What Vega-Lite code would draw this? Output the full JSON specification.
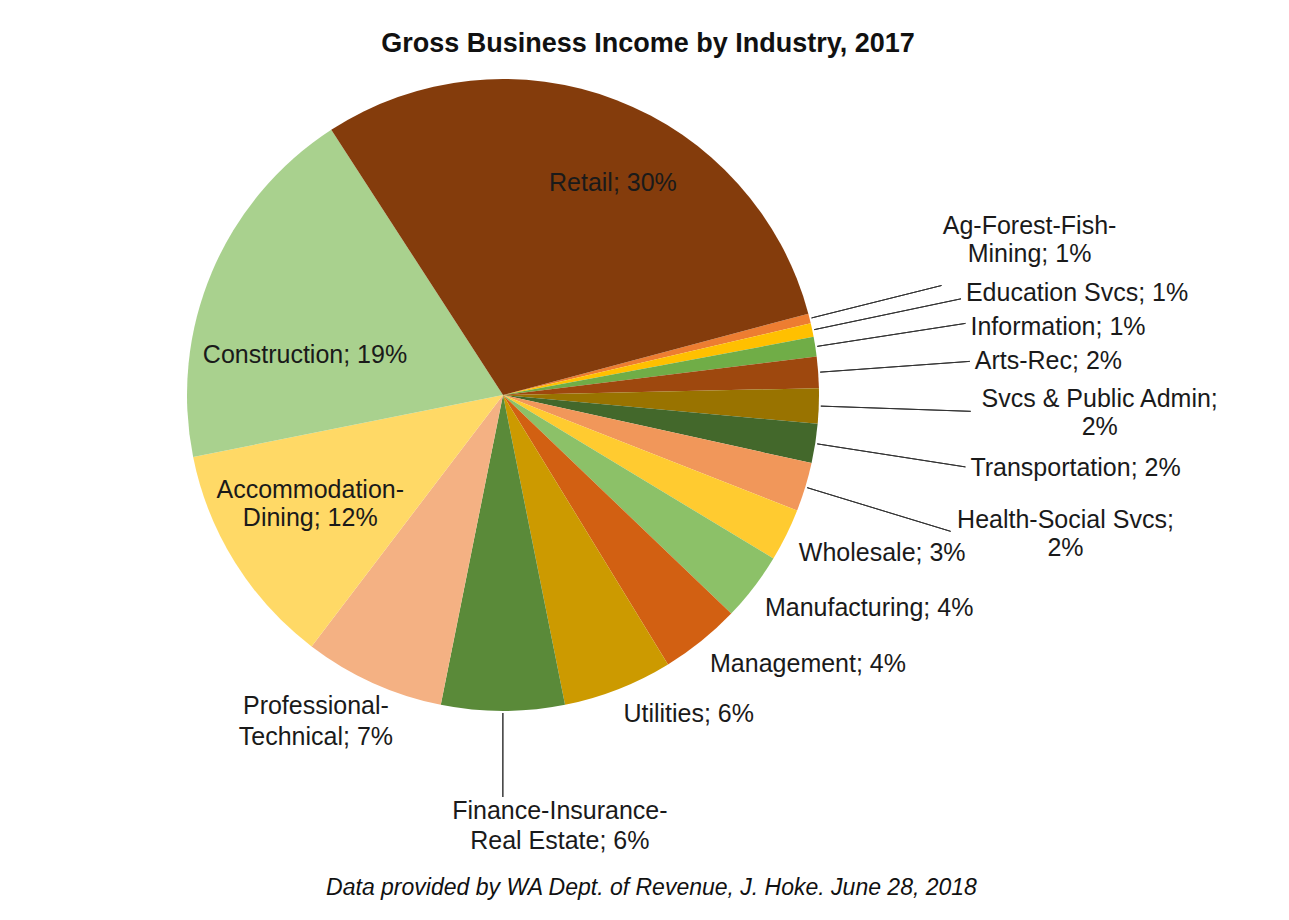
{
  "$schema": "https://vega.github.io/schema/vega-lite/v6.json",
  "width": 990,
  "height": 650,
  "autosize": {"type": "none"},
  "padding": {"left": 8, "top": 70, "right": 291, "bottom": 200},
  "background": "#ffffff",
  "config": {"view": {"stroke": null}, "font": "Liberation Sans"},
  "title": {
    "text": "Gross Business Income by Industry, 2017",
    "font": "Liberation Sans",
    "fontSize": 27,
    "fontWeight": "bold",
    "color": "#111111",
    "anchor": "middle",
    "dx": 145,
    "offset": 12
  },
  "data": {
    "values": [
      {"order": 1, "industry": "Ag-Forest-Fish-Mining", "pct": 0.5, "label": "Ag-Forest-Fish-\nMining; 1%"},
      {"order": 2, "industry": "Education Svcs", "pct": 0.7, "label": "Education Svcs; 1%"},
      {"order": 3, "industry": "Information", "pct": 1.0, "label": "Information; 1%"},
      {"order": 4, "industry": "Arts-Rec", "pct": 1.6, "label": "Arts-Rec; 2%"},
      {"order": 5, "industry": "Svcs & Public Admin", "pct": 1.8, "label": "Svcs & Public Admin;\n2%"},
      {"order": 6, "industry": "Transportation", "pct": 2.0, "label": "Transportation; 2%"},
      {"order": 7, "industry": "Health-Social Svcs", "pct": 2.5, "label": "Health-Social Svcs;\n2%"},
      {"order": 8, "industry": "Wholesale", "pct": 2.7, "label": "Wholesale; 3%"},
      {"order": 9, "industry": "Manufacturing", "pct": 3.5, "label": "Manufacturing; 4%"},
      {"order": 10, "industry": "Management", "pct": 4.1, "label": "Management; 4%"},
      {"order": 11, "industry": "Utilities", "pct": 5.6, "label": "Utilities; 6%"},
      {"order": 12, "industry": "Finance-Insurance-Real Estate", "pct": 6.3, "label": "Finance-Insurance-\nReal Estate; 6%"},
      {"order": 13, "industry": "Professional-Technical", "pct": 7.2, "label": "Professional-\nTechnical; 7%"},
      {"order": 14, "industry": "Accommodation-Dining", "pct": 11.5, "label": "Accommodation-\nDining; 12%"},
      {"order": 15, "industry": "Construction", "pct": 19.0, "label": "Construction; 19%"},
      {"order": 16, "industry": "Retail", "pct": 30.0, "label": "Retail; 30%"}
    ]
  },
  "transform": [
    {"stack": "pct", "groupby": [], "sort": [{"field": "order", "order": "ascending"}], "as": ["v0", "v1"]},
    {"calculate": "(datum.v0 + datum.v1) / 2", "as": "mid"}
  ],
  "layer": [
    {
      "mark": {"type": "arc", "radius": 316},
      "encoding": {
        "theta": {"field": "v0", "type": "quantitative", "scale": {"domain": [0, 100], "range": [1.3104, 7.5936]}},
        "theta2": {"field": "v1"},
        "color": {
          "field": "industry",
          "type": "nominal",
          "legend": null,
          "scale": {
            "domain": ["Ag-Forest-Fish-Mining", "Education Svcs", "Information", "Arts-Rec", "Svcs & Public Admin", "Transportation", "Health-Social Svcs", "Wholesale", "Manufacturing", "Management", "Utilities", "Finance-Insurance-Real Estate", "Professional-Technical", "Accommodation-Dining", "Construction", "Retail"],
            "range": ["#ED7D31", "#FFC000", "#70AD47", "#9E480E", "#997300", "#43682B", "#F1975A", "#FFCB30", "#8CC168", "#D26012", "#CC9A00", "#5A8A39", "#F4B183", "#FFD966", "#A9D18E", "#843C0C"]
          }
        }
      }
    },
    {
      "transform": [{"filter": {"field": "industry", "oneOf": ["Education Svcs", "Information", "Arts-Rec", "Svcs & Public Admin", "Transportation", "Health-Social Svcs"]}}],
      "mark": {"type": "arc", "radius": 468, "radius2": 318, "filled": false, "stroke": "#333333", "strokeWidth": 1},
      "encoding": {
        "theta": {"field": "mid", "type": "quantitative", "scale": {"domain": [0, 100], "range": [1.3104, 7.5936]}},
        "theta2": {"field": "mid"}
      }
    },
    {
      "transform": [{"filter": {"field": "industry", "equal": "Ag-Forest-Fish-Mining"}}],
      "mark": {"type": "arc", "radius": 452, "radius2": 318, "filled": false, "stroke": "#333333", "strokeWidth": 1},
      "encoding": {
        "theta": {"field": "mid", "type": "quantitative", "scale": {"domain": [0, 100], "range": [1.3104, 7.5936]}},
        "theta2": {"field": "mid"}
      }
    },
    {
      "transform": [{"filter": {"field": "industry", "equal": "Finance-Insurance-Real Estate"}}],
      "mark": {"type": "arc", "radius": 402, "radius2": 318, "filled": false, "stroke": "#333333", "strokeWidth": 1},
      "encoding": {
        "theta": {"field": "mid", "type": "quantitative", "scale": {"domain": [0, 100], "range": [1.3104, 7.5936]}},
        "theta2": {"field": "mid"}
      }
    },
    {
      "transform": [{"filter": {"field": "industry", "oneOf": ["Arts-Rec", "Transportation"]}}],
      "mark": {"type": "text", "radius": 473, "align": "left", "baseline": "middle", "fontSize": 25, "color": "#1a1a1a", "font": "Liberation Sans"},
      "encoding": {
        "theta": {"field": "mid", "type": "quantitative", "stack": null, "scale": {"domain": [0, 100], "range": [1.3104, 7.5936]}},
        "text": {"field": "label"}
      }
    },
    {
      "transform": [{"filter": {"field": "industry", "equal": "Information"}}],
      "mark": {"type": "text", "radius": 473, "align": "left", "baseline": "middle", "dy": 4, "fontSize": 25, "color": "#1a1a1a", "font": "Liberation Sans"},
      "encoding": {
        "theta": {"field": "mid", "type": "quantitative", "stack": null, "scale": {"domain": [0, 100], "range": [1.3104, 7.5936]}},
        "text": {"field": "label"}
      }
    },
    {
      "transform": [{"filter": {"field": "industry", "equal": "Education Svcs"}}],
      "mark": {"type": "text", "radius": 473, "align": "left", "baseline": "middle", "dy": -5, "fontSize": 25, "color": "#1a1a1a", "font": "Liberation Sans"},
      "encoding": {
        "theta": {"field": "mid", "type": "quantitative", "stack": null, "scale": {"domain": [0, 100], "range": [1.3104, 7.5936]}},
        "text": {"field": "label"}
      }
    },
    {
      "transform": [{"filter": {"field": "industry", "equal": "Svcs & Public Admin"}}],
      "mark": {"type": "text", "radius": 473, "align": "center", "baseline": "middle", "dx": 124, "dy": -13, "fontSize": 25, "lineBreak": "\n", "lineHeight": 28, "color": "#1a1a1a", "font": "Liberation Sans"},
      "encoding": {
        "theta": {"field": "mid", "type": "quantitative", "stack": null, "scale": {"domain": [0, 100], "range": [1.3104, 7.5936]}},
        "text": {"field": "label"}
      }
    },
    {
      "transform": [{"filter": {"field": "industry", "equal": "Health-Social Svcs"}}],
      "mark": {"type": "text", "radius": 473, "align": "center", "baseline": "middle", "dx": 110, "dy": -13, "fontSize": 25, "lineBreak": "\n", "lineHeight": 28, "color": "#1a1a1a", "font": "Liberation Sans"},
      "encoding": {
        "theta": {"field": "mid", "type": "quantitative", "stack": null, "scale": {"domain": [0, 100], "range": [1.3104, 7.5936]}},
        "text": {"field": "label"}
      }
    },
    {
      "transform": [{"filter": {"field": "industry", "equal": "Ag-Forest-Fish-Mining"}}],
      "mark": {"type": "text", "radius": 452, "align": "center", "baseline": "middle", "dx": 88, "dy": -60, "fontSize": 25, "lineBreak": "\n", "lineHeight": 28, "color": "#1a1a1a", "font": "Liberation Sans"},
      "encoding": {
        "theta": {"field": "mid", "type": "quantitative", "stack": null, "scale": {"domain": [0, 100], "range": [1.3104, 7.5936]}},
        "text": {"field": "label"}
      }
    },
    {
      "transform": [{"filter": {"field": "industry", "oneOf": ["Wholesale", "Manufacturing", "Management", "Utilities"]}}],
      "mark": {"type": "text", "radius": 330, "align": "left", "baseline": "top", "fontSize": 25, "color": "#1a1a1a", "font": "Liberation Sans"},
      "encoding": {
        "theta": {"field": "mid", "type": "quantitative", "stack": null, "scale": {"domain": [0, 100], "range": [1.3104, 7.5936]}},
        "text": {"field": "label"}
      }
    },
    {
      "transform": [{"filter": {"field": "industry", "equal": "Professional-Technical"}}],
      "mark": {"type": "text", "radius": 328, "align": "center", "baseline": "top", "dx": -52, "fontSize": 25, "lineBreak": "\n", "lineHeight": 31, "color": "#1a1a1a", "font": "Liberation Sans"},
      "encoding": {
        "theta": {"field": "mid", "type": "quantitative", "stack": null, "scale": {"domain": [0, 100], "range": [1.3104, 7.5936]}},
        "text": {"field": "label"}
      }
    },
    {
      "transform": [{"filter": {"field": "industry", "equal": "Finance-Insurance-Real Estate"}}],
      "mark": {"type": "text", "radius": 404, "align": "center", "baseline": "top", "dx": 57, "fontSize": 25, "lineBreak": "\n", "lineHeight": 30, "color": "#1a1a1a", "font": "Liberation Sans"},
      "encoding": {
        "theta": {"field": "mid", "type": "quantitative", "stack": null, "scale": {"domain": [0, 100], "range": [1.3104, 7.5936]}},
        "text": {"field": "label"}
      }
    },
    {
      "transform": [{"filter": {"field": "industry", "equal": "Retail"}}],
      "mark": {"type": "text", "radius": 239, "thetaOffset": 0.11, "align": "center", "baseline": "middle", "fontSize": 25, "color": "#1a1a1a", "font": "Liberation Sans"},
      "encoding": {
        "theta": {"field": "mid", "type": "quantitative", "stack": null, "scale": {"domain": [0, 100], "range": [1.3104, 7.5936]}},
        "text": {"field": "label"}
      }
    },
    {
      "transform": [{"filter": {"field": "industry", "equal": "Construction"}}],
      "mark": {"type": "text", "radius": 202, "thetaOffset": -0.2, "align": "center", "baseline": "middle", "fontSize": 25, "color": "#1a1a1a", "font": "Liberation Sans"},
      "encoding": {
        "theta": {"field": "mid", "type": "quantitative", "stack": null, "scale": {"domain": [0, 100], "range": [1.3104, 7.5936]}},
        "text": {"field": "label"}
      }
    },
    {
      "transform": [{"filter": {"field": "industry", "equal": "Accommodation-Dining"}}],
      "mark": {"type": "text", "radius": 215, "thetaOffset": 0.1, "align": "center", "baseline": "middle", "fontSize": 25, "lineBreak": "\n", "lineHeight": 28, "color": "#1a1a1a", "font": "Liberation Sans"},
      "encoding": {
        "theta": {"field": "mid", "type": "quantitative", "stack": null, "scale": {"domain": [0, 100], "range": [1.3104, 7.5936]}},
        "text": {"field": "label"}
      }
    },
    {
      "data": {"values": [{"d": 0}]},
      "mark": {"type": "point", "opacity": 0},
      "encoding": {
        "x": {
          "field": "d",
          "type": "quantitative",
          "scale": {"domain": [0, 1]},
          "axis": {
            "title": "Data provided by WA Dept. of Revenue, J. Hoke. June 28, 2018",
            "labels": false,
            "ticks": false,
            "domain": false,
            "grid": false,
            "titleFont": "Liberation Sans",
            "titleFontSize": 23,
            "titleFontStyle": "italic",
            "titleFontWeight": "normal",
            "titleColor": "#111111",
            "titlePadding": 156,
            "titleX": 643,
            "titleAlign": "center",
            "titleBaseline": "top"
          }
        }
      }
    }
  ]
}
